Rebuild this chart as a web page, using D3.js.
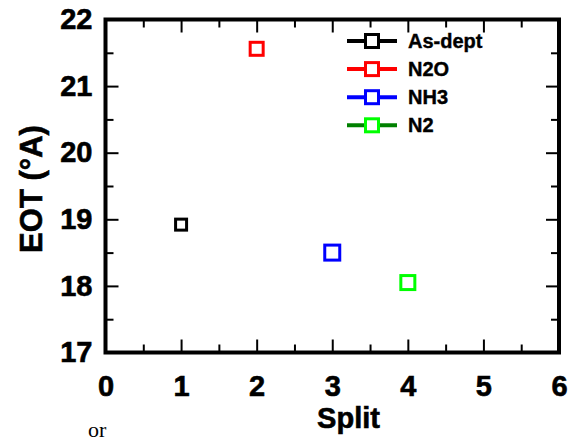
<!DOCTYPE html>
<html>
<head>
<meta charset="utf-8">
<style>
  body { margin: 0; background: #fff; }
  svg { font-family: "Liberation Sans", Arial, sans-serif; }
  .tick line { stroke: #000; stroke-width: 2; }
  .lbl { font-weight: bold; fill: #000; stroke: #000; stroke-width: 0.6; }
</style>
</head>
<body>
<script src="https://d3js.org/d3.v7.min.js"></script>
<div id="chart"></div>
<script>
// data
var series = ["As-dept", "N2O", "NH3", "N2"];
var splitVals = [1, 2, 3, 4];
var eotVals = [18.92, 21.56, 18.5, 18.05];
var markerColors = ["#000000", "#ff0000", "#0000ff", "#00ff00"];
var legendLineColors = ["#000000", "#ff0000", "#0000ff", "#008000"];
var xTicks = [0, 1, 2, 3, 4, 5, 6];
var yTicks = [17, 18, 19, 20, 21, 22];

var width = 574, height = 441;
var box = {left: 105.5, right: 559, top: 19.5, bottom: 352.5};

var x = d3.scaleLinear().domain([0, 6]).range([box.left, box.right]);
var y = d3.scaleLinear().domain([17, 22]).range([box.bottom, box.top]);

var svg = d3.select("#chart").append("svg")
    .attr("width", width)
    .attr("height", height);

var xMinor = d3.range(0.5, 6, 1);
var yMinor = d3.range(17.5, 22, 1);

function boldLabels(g) {
    g.selectAll("text")
        .attr("class", "lbl")
        .style("font-weight", "bold")
        .style("font-size", "29px")
        .style("font-family", "'Liberation Sans', Arial, sans-serif");
}

// bottom axis with labels
var gb = svg.append("g")
    .attr("transform", "translate(0," + box.bottom + ")")
    .call(d3.axisBottom(x).tickValues(xTicks).tickSize(-13).tickFormat(d3.format("d")));
gb.selectAll("text").attr("y", 23).attr("dy", "0.71em");
boldLabels(gb);
svg.append("g")
    .attr("transform", "translate(0," + box.bottom + ")")
    .call(d3.axisBottom(x).tickValues(xMinor).tickSize(-8).tickFormat(""));

// top axis, ticks only
svg.append("g")
    .attr("transform", "translate(0," + box.top + ")")
    .call(d3.axisTop(x).tickValues(xTicks).tickSize(-13).tickFormat(""));
svg.append("g")
    .attr("transform", "translate(0," + box.top + ")")
    .call(d3.axisTop(x).tickValues(xMinor).tickSize(-8).tickFormat(""));

// left axis with labels
var gl = svg.append("g")
    .attr("transform", "translate(" + box.left + ",0)")
    .call(d3.axisLeft(y).tickValues(yTicks).tickSize(-13).tickPadding(13).tickFormat(d3.format("d")));
boldLabels(gl);
svg.append("g")
    .attr("transform", "translate(" + box.left + ",0)")
    .call(d3.axisLeft(y).tickValues(yMinor).tickSize(-8).tickFormat(""));

// right axis, ticks only
svg.append("g")
    .attr("transform", "translate(" + box.right + ",0)")
    .call(d3.axisRight(y).tickValues(yTicks).tickSize(-13).tickFormat(""));
svg.append("g")
    .attr("transform", "translate(" + box.right + ",0)")
    .call(d3.axisRight(y).tickValues(yMinor).tickSize(-8).tickFormat(""));

svg.selectAll(".domain").remove();

// frame
svg.append("rect")
    .attr("x", box.left).attr("y", box.top)
    .attr("width", box.right - box.left).attr("height", box.bottom - box.top)
    .attr("fill", "none").attr("stroke", "#000").attr("stroke-width", 4);

// points
var sizes = [11, 13, 15, 14];
svg.selectAll(".pt")
    .data(splitVals)
    .enter().append("rect")
    .attr("class", "pt")
    .attr("x", function(d, i) { return x(d) - sizes[i] / 2; })
    .attr("y", function(d, i) { return y(eotVals[i]) - sizes[i] / 2; })
    .attr("width", function(d, i) { return sizes[i]; })
    .attr("height", function(d, i) { return sizes[i]; })
    .attr("fill", "#fff")
    .attr("stroke", function(d, i) { return markerColors[i]; })
    .attr("stroke-width", 3);

// legend
var leg = svg.append("g").attr("transform", "translate(347,41)");
var row = leg.selectAll("g")
    .data(series)
    .enter().append("g")
    .attr("transform", function(d, i) { return "translate(0," + (i * 28.1) + ")"; });
row.append("line")
    .attr("x1", 0).attr("x2", 50)
    .attr("stroke", function(d, i) { return legendLineColors[i]; })
    .attr("stroke-width", 4);
row.append("rect")
    .attr("x", 25 - 6.5).attr("y", -6.5)
    .attr("width", 13).attr("height", 13)
    .attr("fill", "#fff")
    .attr("stroke", function(d, i) { return markerColors[i]; })
    .attr("stroke-width", 3);
row.append("text")
    .attr("class", "lbl")
    .attr("x", 61).attr("dy", "0.35em")
    .style("font-size", "20px")
    .style("stroke-width", "0.4px")
    .text(function(d) { return d; });

// axis titles
svg.append("text")
    .attr("class", "lbl")
    .attr("x", 348.5).attr("y", 428)
    .attr("text-anchor", "middle")
    .style("font-size", "29px")
    .text("Split");

svg.append("text")
    .attr("class", "lbl")
    .attr("transform", "translate(42,189) rotate(-90)")
    .attr("text-anchor", "middle")
    .style("font-size", "31px")
    .text("EOT (°A)");

// stray text from the page it was cut from
svg.append("text")
    .attr("x", 88).attr("y", 437)
    .style("font-family", "'Liberation Serif', serif")
    .style("font-size", "22px")
    .text("or");
</script>
</body>
</html>
